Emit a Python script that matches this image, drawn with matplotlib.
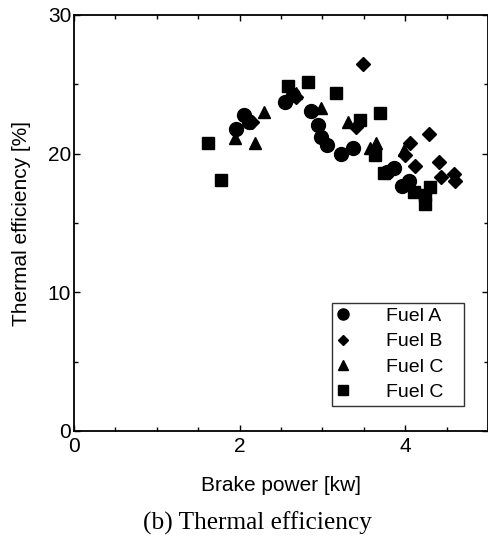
import matplotlib
matplotlib.use("Agg")
import matplotlib.pyplot as plt
from matplotlib.ticker import MultipleLocator

# brake power [kW] and thermal efficiency [%]
fuel_a_x = [1.96, 2.05, 2.11, 2.55, 2.65, 2.86, 2.95, 2.98, 3.05, 3.23, 3.37, 3.78, 3.87, 3.96, 4.05]
fuel_a_y = [21.8, 22.8, 22.3, 23.7, 24.2, 23.1, 22.1, 21.2, 20.6, 20.0, 20.4, 18.7, 19.0, 17.7, 18.0]

fuel_b_x = [2.15, 2.68, 3.41, 3.49, 4.00, 4.06, 4.12, 4.29, 4.41, 4.43, 4.59, 4.60]
fuel_b_y = [22.3, 24.1, 21.9, 26.5, 19.9, 20.8, 19.1, 21.4, 19.4, 18.3, 18.5, 18.0]

fuel_c1_x = [1.95, 2.18, 2.30, 2.68, 2.98, 3.31, 3.57, 3.65, 3.99]
fuel_c1_y = [21.1, 20.8, 23.0, 24.4, 23.3, 22.3, 20.4, 20.8, 20.3]

fuel_c2_x = [1.62, 1.78, 2.59, 2.83, 3.16, 3.46, 3.63, 3.70, 3.75, 4.11, 4.24, 4.24, 4.30]
fuel_c2_y = [20.8, 18.1, 24.9, 25.2, 24.4, 22.4, 19.9, 22.9, 18.6, 17.2, 16.4, 17.0, 17.6]

labels = ['Fuel A', 'Fuel B', 'Fuel C', 'Fuel C']

plt.rcParams['font.family'] = ['Liberation Sans', 'DejaVu Sans']

fig = plt.figure(figsize=(4.89, 5.36), dpi=100)
ax = fig.add_axes([74 / 489, 1 - 431 / 536, 414 / 489, 416 / 536])

ax.plot(fuel_a_x, fuel_a_y, 'o', color='black', ms=10, label=labels[0] + '   ')
ax.plot(fuel_b_x, fuel_b_y, 'D', color='black', ms=7, label=labels[1] + '   ')
ax.plot(fuel_c1_x, fuel_c1_y, '^', color='black', ms=9, label=labels[2] + '   ')
ax.plot(fuel_c2_x, fuel_c2_y, 's', color='black', ms=9, label=labels[3] + '   ')

ax.set_xlim(0, 5)
ax.set_ylim(0, 30)
ax.xaxis.set_major_locator(MultipleLocator(2))
ax.xaxis.set_minor_locator(MultipleLocator(0.5))
ax.yaxis.set_major_locator(MultipleLocator(10))
ax.yaxis.set_minor_locator(MultipleLocator(5))
ax.tick_params(which='both', direction='in', top=True, right=True, labelsize=15, pad=2)
ax.tick_params(axis='x', which='both', pad=4)
ax.tick_params(which='major', length=4, width=1)
ax.tick_params(which='minor', length=3, width=1)
for s in ax.spines.values():
    s.set_linewidth(1.3)

ax.set_xlabel('Brake power [kw]', fontsize=15, labelpad=15)
ax.set_ylabel('Thermal efficiency [%]', fontsize=15, labelpad=12)

leg = ax.legend(loc='lower right', bbox_to_anchor=(464 / 489, 1 - 406 / 536),
                bbox_transform=fig.transFigure, fontsize=14, frameon=True,
                fancybox=False, edgecolor='black', handletextpad=1.9,
                borderpad=0.25, labelspacing=0.4, handlelength=0.6, markerscale=0.8,
                borderaxespad=0)
leg.get_frame().set_linewidth(1.0)

fig.text(258 / 489, 1 - 523 / 536, '(b) Thermal efficiency', family='Liberation Serif',
         fontsize=18.3, ha='center', va='center')

fig.savefig('out.png', dpi=100)
